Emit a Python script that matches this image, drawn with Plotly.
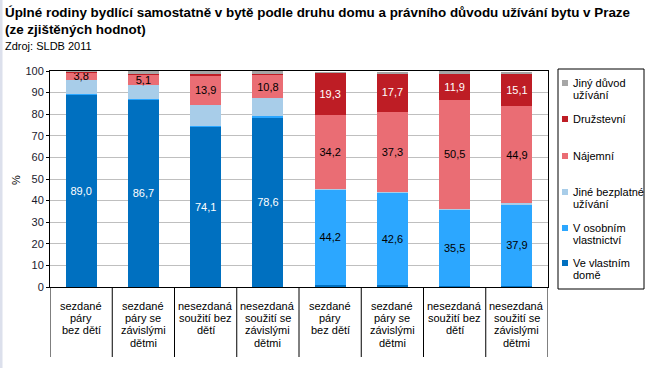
import plotly.graph_objects as go

# ---------------- data ----------------
categories = [
    "sezdané<br>páry<br>bez dětí",
    "sezdané<br>páry se<br>závislými<br>dětmi",
    "nesezdaná<br>soužití bez<br>dětí",
    "nesezdaná<br>soužití se<br>závislými<br>dětmi",
    "sezdané<br>páry<br>bez dětí",
    "sezdané<br>páry se<br>závislými<br>dětmi",
    "nesezdaná<br>soužití bez<br>dětí",
    "nesezdaná<br>soužití se<br>závislými<br>dětmi",
]
ve_vlastnim_dome = [89.0, 86.7, 74.1, 78.6, 1.0, 1.0, 0.5, 0.5]
v_osobnim_vlastnictvi = [0.5, 0.5, 0.5, 0.6, 44.2, 42.6, 35.5, 37.9]
jine_bezplatne = [6.2, 6.2, 9.6, 8.2, 0.4, 0.3, 0.3, 0.3]
najemni = [3.8, 5.1, 13.9, 10.8, 34.2, 37.3, 50.5, 44.9]
druzstevni = [0.2, 0.3, 0.4, 0.4, 19.3, 17.7, 11.9, 15.1]
jiny_duvod = [0.3, 1.2, 1.5, 1.4, 0.3, 0.3, 1.2, 0.7]

series_names = ["Ve vlastním<br>domě", "V osobním<br>vlastnictví", "Jiné bezplatné<br>užívání",
                "Nájemní", "Družstevní", "Jiný důvod<br>užívání"]
series_values = [ve_vlastnim_dome, v_osobnim_vlastnictvi, jine_bezplatne, najemni, druzstevni, jiny_duvod]
series_colors = ["#0070C0", "#2CA7FF", "#A8CDE9", "#EA6D74", "#BE1D25", "#A6A6A6"]
label_colors = ["white", "black", None, "black", "white", None]

# ---------------- layout geometry ----------------
W, H = 653, 368
L, R, T, B = 50, 105, 71, 81
PW, PH = W - L - R, H - T - B


def px_x(px):
    return (px - L) / PW


def px_y(py):
    return (H - B - py) / PH


FONT = "Liberation Sans, Arial, sans-serif"
x = list(range(len(categories)))

fig = go.Figure()
for name, vals, col, lc in zip(series_names, series_values, series_colors, label_colors):
    if lc is not None:
        texts = [f"{v:.1f}".replace(".", ",") if v >= 3 else "" for v in vals]
    else:
        texts = ["" for v in vals]
    fig.add_trace(go.Bar(
        x=x, y=vals, name=name.replace("<br>", " "), marker=dict(color=col, line=dict(width=0)),
        text=texts, textposition="inside", insidetextanchor="middle",
        textangle=0, constraintext="none",
        textfont=dict(family=FONT, size=11, color=lc or "black"),
        width=0.5, showlegend=False, cliponaxis=False,
    ))

shapes = []
annotations = []

# category dividers extending below the axis
for i in range(len(categories) + 1):
    shapes.append(dict(type="line", xref="x", yref="paper", x0=i - 0.5, x1=i - 0.5,
                       y0=0, y1=px_y(357), line=dict(color="black", width=1)))

# category labels (line by line for tight spacing)
for i, c in enumerate(categories):
    for j, line in enumerate(c.split("<br>")):
        annotations.append(dict(x=i, y=px_y(306 + 12.2 * j), xref="x", yref="paper", text=line,
                                showarrow=False, xanchor="center", yanchor="middle",
                                font=dict(family=FONT, size=11, color="black")))

# title & source
annotations.append(dict(x=px_x(3), y=px_y(12), xref="paper", yref="paper",
                        text="<b>Úplné rodiny bydlící samostatně v bytě podle druhu domu a právního důvodu užívání bytu v Praze</b>",
                        showarrow=False, xanchor="left", yanchor="middle",
                        font=dict(family=FONT, size=13.4, color="black")))
annotations.append(dict(x=px_x(3), y=px_y(30), xref="paper", yref="paper",
                        text="<b>(ze zjištěných hodnot)</b>",
                        showarrow=False, xanchor="left", yanchor="middle",
                        font=dict(family=FONT, size=13.4, color="black")))
annotations.append(dict(x=px_x(3), y=px_y(46), xref="paper", yref="paper",
                        text="Zdroj: SLDB 2011", showarrow=False, xanchor="left", yanchor="middle",
                        font=dict(family=FONT, size=11, color="black")))

# y axis title
annotations.append(dict(x=px_x(16), y=px_y(180), xref="paper", yref="paper", text="%",
                        showarrow=False, textangle=-90, xanchor="center", yanchor="middle",
                        font=dict(family=FONT, size=11, color="black")))

# manual legend
shapes.append(dict(type="rect", xref="paper", yref="paper", x0=px_x(558), x1=px_x(644),
                   y0=px_y(289), y1=px_y(69), line=dict(color="black", width=1),
                   fillcolor="white", layer="below"))
legend_y = [263, 228, 192, 156, 119, 83]
for name, col, ly in zip(series_names, series_colors, legend_y):
    shapes.append(dict(type="rect", xref="paper", yref="paper", x0=px_x(562), x1=px_x(568),
                       y0=px_y(ly + 3), y1=px_y(ly - 3), line=dict(width=0), fillcolor=col))
    for j, line in enumerate(name.split("<br>")):
        annotations.append(dict(x=px_x(571), y=px_y(ly + 11.8 * j), xref="paper", yref="paper",
                                text=line, showarrow=False, xanchor="left", yanchor="middle",
                                font=dict(family=FONT, size=11, color="black")))

# left light strip
shapes.append(dict(type="rect", xref="paper", yref="paper", x0=px_x(0), x1=px_x(2.5),
                   y0=px_y(H), y1=px_y(0), line=dict(width=0), fillcolor="#DCE0EC"))

fig.update_layout(
    width=W, height=H, margin=dict(l=L, r=R, t=T, b=B),
    barmode="stack", bargap=0.5,
    paper_bgcolor="white", plot_bgcolor="white",
    font=dict(family=FONT, size=11, color="black"),
    shapes=shapes, annotations=annotations, showlegend=False,
    xaxis=dict(range=[-0.5, len(categories) - 0.5], showticklabels=False, showgrid=False,
               zeroline=False, showline=True, linecolor="black", linewidth=1, mirror=True,
               ticks="", fixedrange=True),
    yaxis=dict(range=[0, 100], dtick=10, showgrid=True, gridcolor="#BFBFBF", gridwidth=1,
               zeroline=False, showline=True, linecolor="black", linewidth=1, mirror=True,
               ticks="outside", ticklen=3, tickcolor="black",
               tickfont=dict(family=FONT, size=11, color="#1A1A2E"), fixedrange=True),
)

fig.write_html("out.html", config={"displayModeBar": False},
               post_script="document.body.style.margin='0';document.body.style.overflow='hidden';")
